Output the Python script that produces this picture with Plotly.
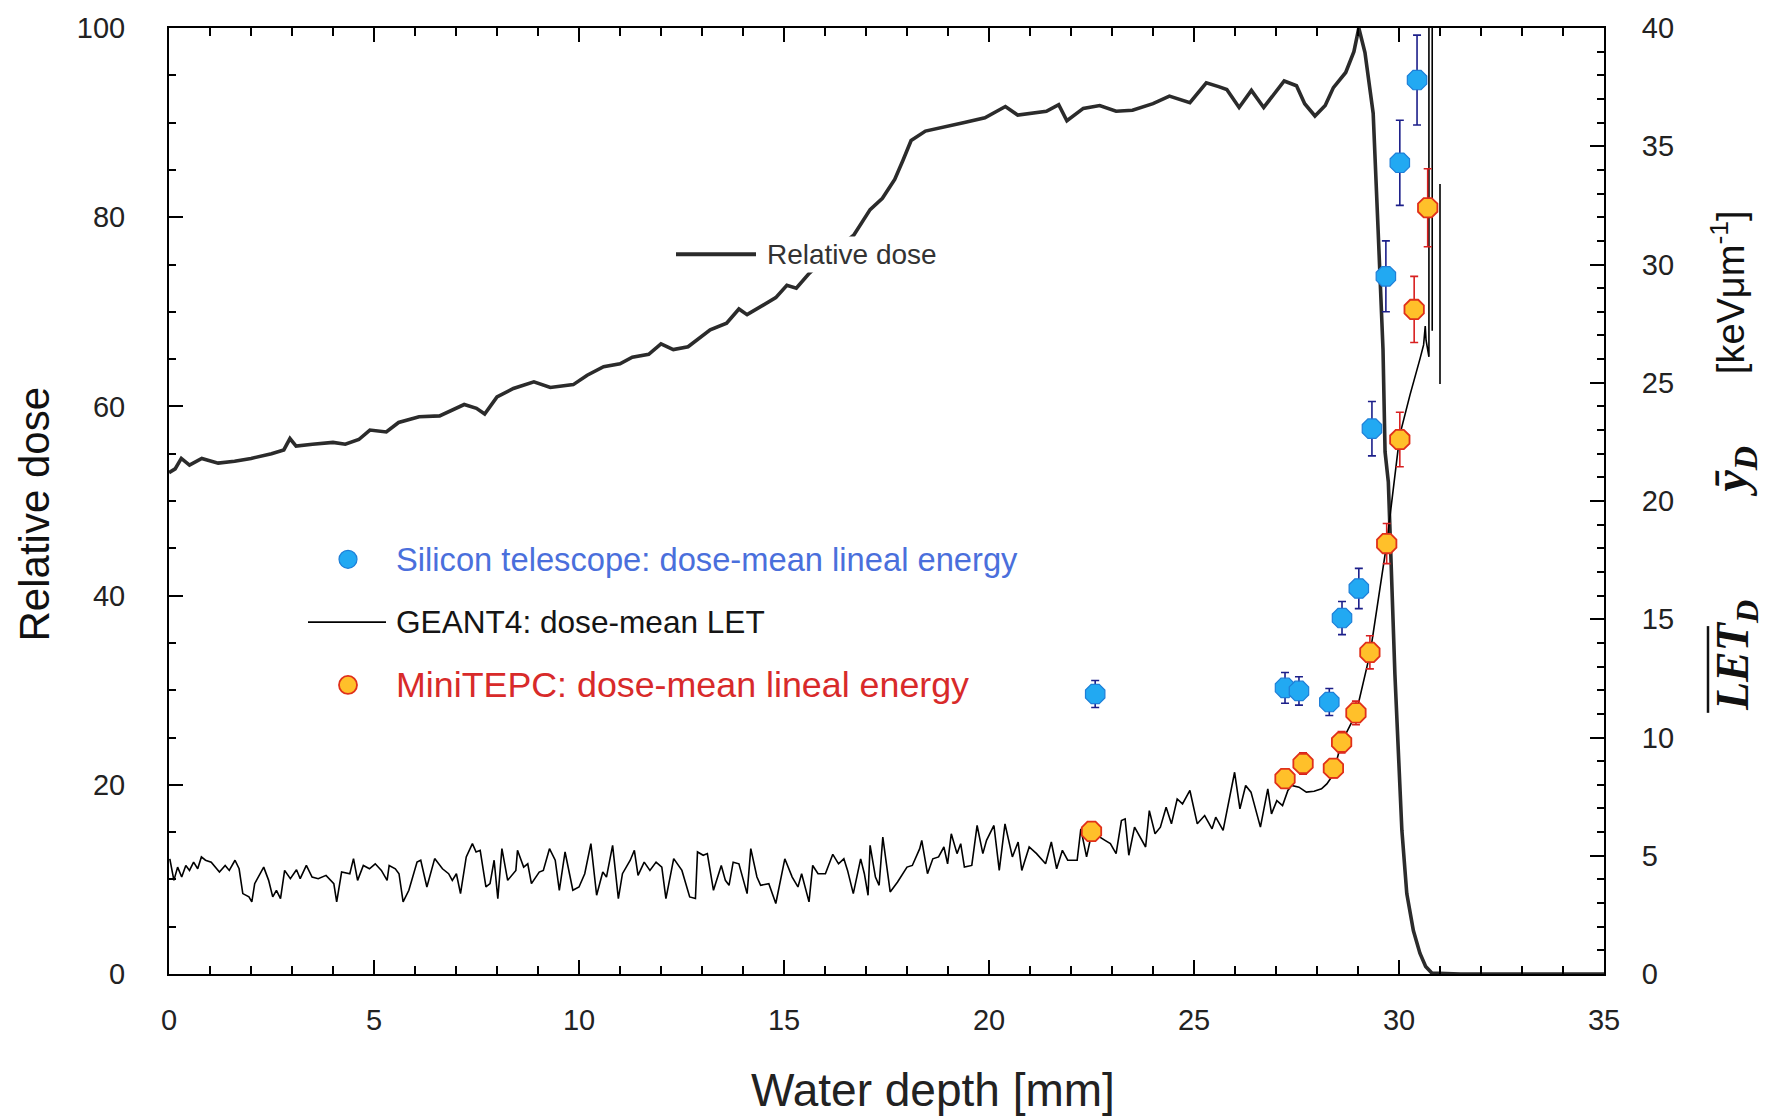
import plotly.graph_objects as go

# ---------------- data ----------------
depth_dose = [0, 0.15, 0.3, 0.5, 0.8, 1.2, 1.6, 2.0, 2.5, 2.8, 2.95, 3.1, 3.5, 4.0, 4.3, 4.63, 4.9, 5.3, 5.6, 6.1,
              6.6, 7.2, 7.5, 7.7, 8.0, 8.4, 8.9, 9.3, 9.86, 10.2, 10.6, 11.0, 11.3, 11.7, 12.0, 12.3, 12.66, 13.2,
              13.6, 13.9, 14.1, 14.5, 14.8, 15.07, 15.3, 15.6, 16.1, 16.7, 17.1, 17.4, 17.7, 17.9, 18.1, 18.45,
              18.9, 19.4, 19.9, 20.4, 20.7, 21.05, 21.4, 21.7, 21.9, 22.3, 22.7, 23.1, 23.5, 24.0, 24.4, 24.9,
              25.3, 25.6, 25.8, 26.1, 26.4, 26.7, 27.0, 27.2, 27.5, 27.7, 27.95, 28.2, 28.4, 28.7, 28.9, 29.02,
              29.17, 29.37, 29.49, 29.61, 29.66, 29.74, 29.9, 29.98, 30.07, 30.19, 30.35, 30.51, 30.65, 30.8,
              31.5, 35.0]
dose = [53.0, 53.4, 54.5, 53.8, 54.5, 54.0, 54.2, 54.5, 55.0, 55.4, 56.6, 55.8, 56.0, 56.2, 56.0, 56.5, 57.5, 57.3,
        58.3, 58.9, 59.0, 60.2, 59.8, 59.2, 61.0, 61.9, 62.6, 62.0, 62.3, 63.3, 64.2, 64.5, 65.2, 65.5, 66.6, 66.0,
        66.3, 68.1, 68.8, 70.3, 69.7, 70.7, 71.5, 72.8, 72.5, 74.0, 76.0, 78.1, 80.8, 82.0, 84.0, 86.0, 88.1, 89.1,
        89.5, 90.0, 90.5, 91.7, 90.8, 91.0, 91.2, 91.9, 90.2, 91.5, 91.8, 91.2, 91.3, 92.0, 92.8, 92.1, 94.2, 93.8,
        93.5, 91.6, 93.4, 91.6, 93.2, 94.4, 93.9, 92.0, 90.7, 91.8, 93.7, 95.3, 97.5, 100.0, 97.4, 91.0, 78.7, 66.0,
        55.2, 52.0, 31.7, 24.0, 15.2, 8.5, 4.6, 2.2, 0.8, 0.1, 0.0, 0.0]

# GEANT4 dose-mean LET (depth mm, keV/um)
let_points_entrance = [
    (0.02, 4.87), (0.12, 3.96), (0.21, 4.52), (0.31, 4.10), (0.41, 4.59), (0.50, 4.38), (0.60, 4.73), (0.70, 4.45),
    (0.79, 4.95), (0.89, 4.81), (1.03, 4.73), (1.23, 4.31), (1.37, 4.59), (1.47, 4.38), (1.61, 4.81), (1.71, 4.45),
    (1.80, 3.40), (1.95, 3.26), (2.02, 3.05), (2.09, 3.82), (2.31, 4.52), (2.43, 3.96), (2.53, 3.26), (2.62, 3.54),
    (2.72, 3.19), (2.82, 4.38), (2.96, 4.03), (3.11, 4.41), (3.20, 4.03), (3.35, 4.59), (3.49, 4.10), (3.64, 4.03),
    (3.83, 4.17), (4.02, 3.82), (4.09, 3.05), (4.21, 4.31), (4.41, 4.24), (4.50, 4.88), (4.60, 3.96), (4.74, 4.59),
    (4.89, 4.45), (5.03, 4.66), (5.18, 4.38), (5.32, 3.96), (5.37, 4.59), (5.52, 4.45), (5.61, 4.24), (5.71, 3.05),
    (5.85, 3.54), (6.05, 4.73), (6.14, 4.81), (6.29, 3.68), (6.48, 4.88), (6.67, 4.45), (6.82, 4.24), (6.91, 3.96),
    (7.01, 4.24), (7.11, 3.40), (7.25, 4.95), (7.40, 5.51), (7.49, 5.16), (7.59, 5.23), (7.73, 3.68), (7.83, 3.82),
    (7.93, 4.81), (8.02, 3.19), (8.12, 5.30), (8.26, 3.96), (8.46, 4.38), (8.50, 5.23), (8.65, 4.52), (8.75, 4.66),
    (8.84, 3.82), (9.03, 4.31), (9.13, 4.38), (9.28, 5.30), (9.42, 4.81), (9.52, 3.54), (9.66, 5.16), (9.85, 3.54),
    (10.0, 3.68), (10.14, 4.24), (10.29, 5.51), (10.43, 3.33), (10.58, 4.31), (10.67, 4.10), (10.82, 5.44),
    (10.96, 3.19), (11.06, 4.24), (11.25, 4.81), (11.35, 5.23), (11.44, 4.17), (11.59, 4.73), (11.73, 4.38),
    (11.88, 4.73), (12.02, 4.52), (12.12, 3.19), (12.31, 4.88), (12.51, 4.38), (12.70, 3.26), (12.84, 3.19),
    (12.89, 5.16), (13.03, 5.02), (13.13, 5.09), (13.28, 3.54), (13.47, 4.59), (13.57, 3.96), (13.66, 3.75),
    (13.76, 4.73), (13.90, 4.66), (14.10, 3.40), (14.19, 5.30), (14.34, 4.10), (14.43, 3.75), (14.63, 3.82),
]
let_points_plateau = [
    (14.80, 2.98), (15.02, 4.87), (15.20, 4.10), (15.34, 3.68), (15.43, 4.24), (15.61, 3.05), (15.70, 4.59),
    (15.83, 4.24), (16.01, 4.24), (16.19, 5.06), (16.33, 4.66), (16.46, 4.87), (16.55, 4.38), (16.69, 3.40),
    (16.87, 4.87), (16.96, 4.24), (17.05, 3.33), (17.10, 5.44), (17.23, 4.10), (17.32, 3.75), (17.41, 5.79),
    (17.59, 3.47), (17.77, 3.89), (18.0, 4.52), (18.13, 4.59), (18.31, 5.30), (18.36, 5.65), (18.50, 4.24),
    (18.63, 4.87), (18.77, 4.95), (18.90, 5.37), (18.99, 4.66), (19.08, 5.93), (19.22, 5.09), (19.31, 5.51),
    (19.40, 4.52), (19.58, 4.59), (19.71, 6.28), (19.85, 5.09), (19.94, 5.65), (20.12, 6.28), (20.25, 4.38),
    (20.39, 6.35), (20.57, 4.95), (20.71, 5.58), (20.80, 4.38), (20.98, 5.37), (21.16, 5.09), (21.38, 4.66),
    (21.52, 5.58), (21.65, 4.45), (21.79, 5.23), (21.92, 4.81), (22.15, 4.81), (22.24, 6.14), (22.38, 4.95),
    (22.51, 6.0), (22.83, 5.65), (22.96, 5.51), (23.10, 5.09), (23.23, 6.49), (23.32, 6.56), (23.41, 5.02),
    (23.55, 6.21), (23.68, 5.79), (23.82, 5.37), (23.91, 6.91), (24.05, 5.93), (24.18, 6.21), (24.32, 7.05),
    (24.45, 6.35), (24.59, 7.40), (24.72, 7.19), (24.90, 7.76), (25.08, 6.35), (25.26, 6.70), (25.44, 6.14),
    (25.53, 6.63), (25.71, 6.07), (25.85, 7.33), (25.99, 8.53), (26.12, 6.98), (26.26, 7.97), (26.39, 7.69),
    (26.62, 6.21), (26.80, 7.83), (26.89, 6.77), (27.02, 7.33), (27.16, 7.12), (27.29, 7.76), (27.38, 7.97),
    (27.56, 7.90), (27.74, 7.69), (27.93, 7.73), (28.11, 7.83), (28.24, 8.04), (28.38, 8.39),
]
let_points_peak = [
    (28.6, 9.8), (28.95, 11.0), (29.3, 13.6), (29.7, 18.2), (30.02, 22.8), (30.27, 24.5), (30.51, 26.0),
    (30.6, 26.6), (30.64, 27.4), (30.66, 26.8), (30.73, 26.1), (30.73, 45.0), (30.81, 45.0), (30.81, 27.2),
    (None, None), (31.0, 33.4), (31.0, 24.95), (31.0, 29.0),
]
let_points = let_points_entrance + let_points_plateau + let_points_peak
let_depth = [p[0] for p in let_points]
let_value = [p[1] for p in let_points]

si_depth = [22.59, 27.22, 27.56, 28.30, 28.61, 29.02, 29.34, 29.68, 30.02, 30.44]
si_yd = [11.84, 12.10, 11.97, 11.50, 15.05, 16.30, 23.06, 29.50, 34.30, 37.80]
si_err = [0.57, 0.65, 0.60, 0.57, 0.70, 0.85, 1.15, 1.50, 1.80, 1.90]

tepc_depth = [22.50, 27.22, 27.66, 28.40, 28.60, 28.95, 29.29, 29.70, 30.02, 30.37, 30.70]
tepc_yd = [6.03, 8.26, 8.90, 8.70, 9.80, 11.04, 13.60, 18.20, 22.60, 28.10, 32.40]
tepc_err = [0.30, 0.35, 0.45, 0.40, 0.45, 0.50, 0.70, 0.85, 1.15, 1.40, 1.65]

x_ticks = [0, 5, 10, 15, 20, 25, 30, 35]

# ---------------- figure ----------------
W, H = 1767, 1117
L, R, T, B = 169, 163, 25, 143
PW, PH = W - L - R, H - T - B


def px(x):
    return (x - L) / PW


def py(y):
    return (T + PH - y) / PH


SANS = "Liberation Sans, Arial, Helvetica, sans-serif"
SERIF = "Liberation Serif, Times New Roman, serif"

fig = go.Figure()

fig.add_trace(go.Scatter(x=depth_dose, y=dose, mode="lines", name="Relative dose",
                         line=dict(color="#2b2b2b", width=3.6), yaxis="y", showlegend=False))
fig.add_trace(go.Scatter(x=let_depth, y=let_value, mode="lines", name="GEANT4: dose-mean LET",
                         line=dict(color="black", width=1.6), yaxis="y2", showlegend=False,
                         connectgaps=False))
fig.add_trace(go.Scatter(x=si_depth, y=si_yd, mode="markers", yaxis="y2", showlegend=False,
                         name="Silicon telescope: dose-mean lineal energy",
                         marker=dict(symbol="octagon", size=21, color="#22a9f2",
                                     line=dict(color="#1e7fd8", width=1.2)),
                         error_y=dict(type="data", array=si_err, visible=True, color="#1c1f8a",
                                      thickness=1.6, width=4)))
fig.add_trace(go.Scatter(x=tepc_depth, y=tepc_yd, mode="markers", yaxis="y2", showlegend=False,
                         name="MiniTEPC: dose-mean lineal energy",
                         marker=dict(symbol="octagon", size=21, color="#ffc02a",
                                     line=dict(color="#e0301a", width=1.8)),
                         error_y=dict(type="data", array=tepc_err, visible=True, color="#d82020",
                                      thickness=1.6, width=4)))

axis_common = dict(showline=True, linewidth=2, linecolor="black", ticks="inside", ticklen=14,
                   tickwidth=2, tickcolor="black", showgrid=False, zeroline=False,
                   tickfont=dict(family=SANS, size=29, color="#222222"))

fig.update_layout(
    width=W, height=H,
    margin=dict(l=L, r=R, t=T, b=B, pad=0),
    paper_bgcolor="white", plot_bgcolor="white",
    showlegend=False,
    xaxis=dict(range=[0, 35], tickmode="array", tickvals=x_ticks, mirror="ticks",
               minor=dict(dtick=1, ticks="inside", ticklen=8, tickwidth=1.6, tickcolor="black"),
               ticklabelstandoff=19, **axis_common),
    yaxis=dict(range=[0, 100], dtick=20, tick0=0,
               minor=dict(dtick=5, ticks="inside", ticklen=7, tickwidth=1.6, tickcolor="black"),
               ticklabelstandoff=36, **axis_common),
    yaxis2=dict(range=[0, 40], dtick=5, tick0=0, overlaying="y", side="right",
                minor=dict(dtick=1, ticks="inside", ticklen=7, tickwidth=1.6, tickcolor="black"),
                ticklabelstandoff=30, **axis_common),
)

ann = []
# axis titles
ann.append(dict(text="Water depth [mm]", xref="paper", yref="paper", x=px(933), y=py(1090),
                showarrow=False, font=dict(family=SANS, size=46, color="#222222"),
                xanchor="center", yanchor="middle"))
ann.append(dict(text="Relative dose", xref="paper", yref="paper", x=px(34), y=py(513), textangle=-90,
                showarrow=False, font=dict(family=SANS, size=42, color="#111111"),
                xanchor="center", yanchor="middle"))
# right-axis title (three parts)
ann.append(dict(text="[keV\u03bcm<sup>-1</sup>]", xref="paper", yref="paper", x=px(1728), y=py(290),
                textangle=-90, showarrow=False, font=dict(family=SANS, size=38, color="#111111"),
                xanchor="center", yanchor="middle"))
ann.append(dict(text="<b><i>\u0233<sub>D</sub></i></b>", xref="paper", yref="paper", x=px(1734), y=py(470),
                textangle=-90, showarrow=False, font=dict(family=SERIF, size=48, color="#111111"),
                xanchor="center", yanchor="middle"))
ann.append(dict(text="<b><i>LET<sub>D</sub></i></b>", xref="paper", yref="paper", x=px(1736), y=py(655),
                textangle=-90, showarrow=False, font=dict(family=SERIF, size=46, color="#111111"),
                xanchor="center", yanchor="middle"))
# in-plot labels
ann.append(dict(text="Relative dose", xref="paper", yref="paper", x=px(764), y=py(252),
                showarrow=False, font=dict(family=SANS, size=28, color="#333333"),
                xanchor="left", yanchor="middle", bgcolor="white", borderpad=2))
ann.append(dict(text="Silicon telescope: dose-mean lineal energy", xref="paper", yref="paper",
                x=px(394), y=py(558), showarrow=False, font=dict(family=SANS, size=32.7, color="#4a6fdc"),
                xanchor="left", yanchor="middle"))
ann.append(dict(text="GEANT4: dose-mean LET", xref="paper", yref="paper",
                x=px(394), y=py(621), showarrow=False, font=dict(family=SANS, size=31.6, color="#151515"),
                xanchor="left", yanchor="middle"))
ann.append(dict(text="MiniTEPC: dose-mean lineal energy", xref="paper", yref="paper",
                x=px(394), y=py(684), showarrow=False, font=dict(family=SANS, size=35.8, color="#d82a2a"),
                xanchor="left", yanchor="middle"))
fig.update_layout(annotations=ann)

shapes = []
# legend keys
shapes.append(dict(type="line", xref="paper", yref="paper", x0=px(676), x1=px(756), y0=py(252), y1=py(252),
                   line=dict(color="#2b2b2b", width=4)))
shapes.append(dict(type="line", xref="paper", yref="paper", x0=px(308), x1=px(386), y0=py(621), y1=py(621),
                   line=dict(color="black", width=1.6)))
shapes.append(dict(type="circle", xref="paper", yref="paper", xsizemode="pixel", ysizemode="pixel",
                   xanchor=px(348), yanchor=py(558), x0=-9, x1=9, y0=-9, y1=9,
                   fillcolor="#22a9f2", line=dict(color="#1e7fd8", width=1.2)))
shapes.append(dict(type="circle", xref="paper", yref="paper", xsizemode="pixel", ysizemode="pixel",
                   xanchor=px(348), yanchor=py(684), x0=-9, x1=9, y0=-9, y1=9,
                   fillcolor="#ffc02a", line=dict(color="#e0301a", width=1.8)))
# overline of LET_D
shapes.append(dict(type="line", xref="paper", yref="paper", x0=px(1708), x1=px(1708), y0=py(625), y1=py(712),
                   line=dict(color="#111111", width=2.5)))
fig.update_layout(shapes=shapes)

fig.write_html("out.html")
